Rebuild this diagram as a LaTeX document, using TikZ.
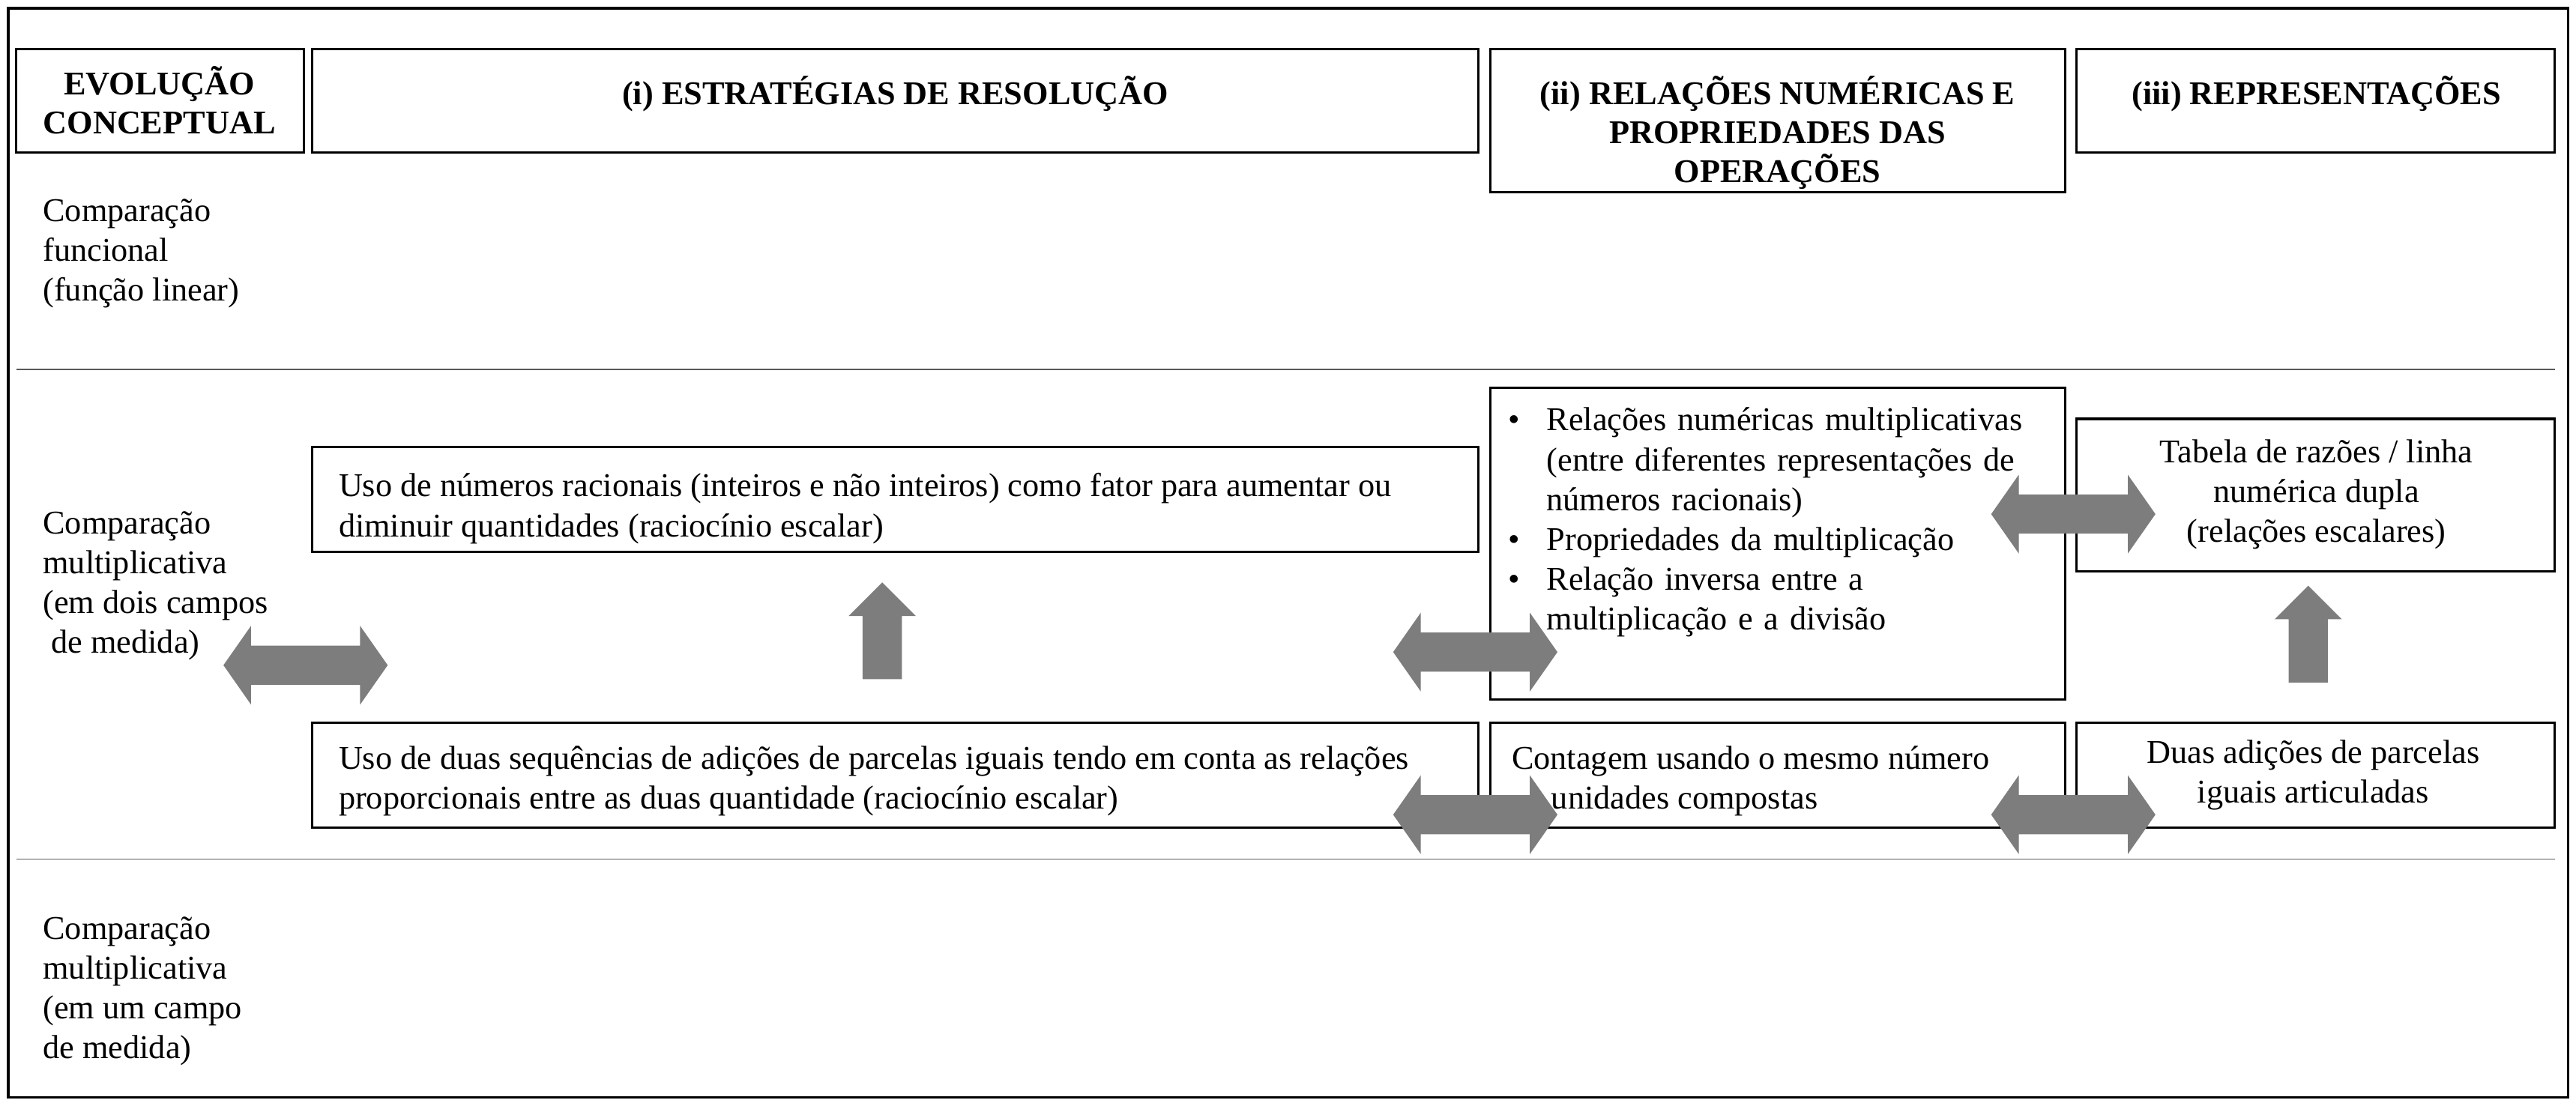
\documentclass[tikz,border=0pt]{standalone}
\usepackage{fontspec}
\setmainfont{Liberation Serif}
\usetikzlibrary{shapes.arrows}
\definecolor{arrgray}{RGB}{125,125,125}
\begin{document}
\begin{tikzpicture}[x=0.02cm,y=-0.02cm,
  hdr/.style={font=\bfseries\fontsize{11.5}{13.5}\selectfont,align=center},
  txt/.style={font=\fontsize{11.5}{13.8}\selectfont},
  darr/.style={double arrow,fill=arrgray,draw=none,minimum height=2cm,minimum width=0.96cm,inner sep=0.23cm,double arrow head extend=0.24cm,double arrow tip angle=110},
  uarr/.style={single arrow,fill=arrgray,draw=none,minimum height=1.18cm,minimum width=0.82cm,inner sep=0.23cm,single arrow head extend=0.17cm,shape border rotate=90}]
\useasboundingbox (0,0) rectangle (1568,673);
\draw[line width=0.8pt] (5,5) rectangle (1563,668);
% headers
\draw[line width=0.8pt] (10,30) rectangle (185,93);
\node[hdr] (h0) at (97,61) {EVOLUÇÃO\\CONCEPTUAL};
\draw[line width=0.8pt] (190,30) rectangle (900,93);
\node[hdr,anchor=north] (h1) at (545,40) {(i) ESTRATÉGIAS DE RESOLUÇÃO};
\draw[line width=0.8pt] (907,30) rectangle (1257,117);
\node[hdr,anchor=north] (h2) at (1082,40) {(ii) RELAÇÕES NUMÉRICAS E\\PROPRIEDADES DAS\\OPERAÇÕES};
\draw[line width=0.8pt] (1264,30) rectangle (1555,93);
\node[hdr,anchor=north] (h3) at (1410,40) {(iii) REPRESENTAÇÕES};
% separators
\draw[gray!70!black] (10,225) -- (1555,225);
\draw[gray!70!black] (10,523) -- (1555,523);
% left labels
\node[txt,anchor=north west,align=left] (l1) at (20,115) {Comparação\\funcional\\(função linear)};
\node[txt,anchor=north west,align=left] (l2) at (20,305) {Comparação\\multiplicativa\\(em dois campos\\\ de medida)};
\node[txt,anchor=north west,align=left] (l3) at (20,552) {Comparação\\multiplicativa\\(em um campo\\de medida)};
% boxes
\draw[line width=0.8pt] (190,272) rectangle (900,336);
\node[txt,anchor=north west,align=left] (a) at (200,282) {Uso de números racionais (inteiros e não inteiros) como fator para aumentar ou\\diminuir quantidades (raciocínio escalar)};
\draw[line width=0.8pt] (190,440) rectangle (900,504);
\node[txt,anchor=north west,align=left] (b) at (200,448) {Uso de duas sequências de adições de parcelas iguais tendo em conta as relações\\proporcionais entre as duas quantidade (raciocínio escalar)};
\draw[line width=0.8pt] (907,236) rectangle (1257,426);
\node[txt,anchor=north west,align=left,text width=340] (c) at (912,242) {%
\textbullet\hspace{0.8em}Relações numéricas multiplicativas\\
\hspace*{1.15em}(entre diferentes representações de\\
\hspace*{1.15em}números racionais)\\
\textbullet\hspace{0.8em}Propriedades da multiplicação\\
\textbullet\hspace{0.8em}Relação inversa entre a\\
\hspace*{1.15em}multiplicação e a divisão};
\draw[line width=0.8pt] (907,440) rectangle (1257,504);
\node[txt,anchor=north west,align=left] (d) at (914,448) {Contagem usando o mesmo número\\\phantom{de }unidades compostas};
\draw[line width=0.8pt] (1264,255) rectangle (1555,348);
\node[txt,align=center] (e) at (1410,301) {Tabela de razões / linha\\numérica dupla\\(relações escalares)};
\draw[line width=0.8pt] (1264,440) rectangle (1555,504);
\node[txt,align=center] (f) at (1408,472) {Duas adições de parcelas\\iguais articuladas};
% arrows
\node[darr] (ar1) at (186,405) {};
\node[darr] (ar2) at (898,397) {};
\node[darr] (ar3) at (1262,313) {};
\node[darr] (ar4) at (898,496) {};
\node[darr] (ar5) at (1262,496) {};
\node[uarr] (up1) at (537,390) {};
\node[uarr] (up2) at (1405,392) {};
\end{tikzpicture}
\end{document}
